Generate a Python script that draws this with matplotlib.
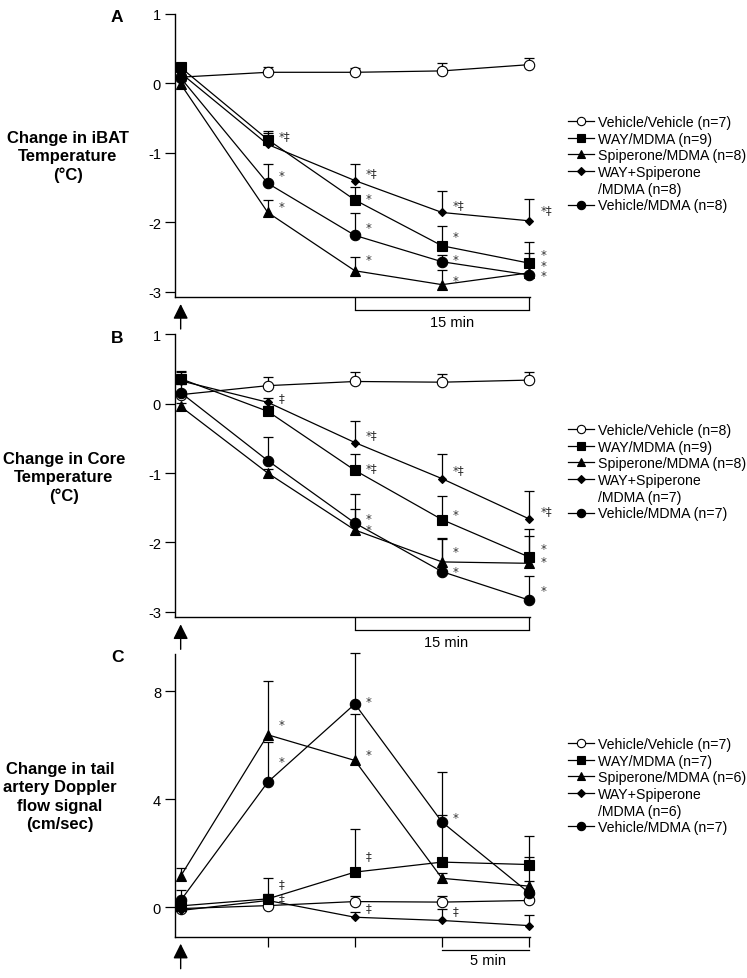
import matplotlib.pyplot as plt
from matplotlib.transforms import offset_copy

plt.rcParams['font.family'] = ['Liberation Sans', 'DejaVu Sans']
plt.rcParams['axes.unicode_minus'] = False

x = [0, 1, 2, 3, 4]

# A: change in iBAT temperature (°C)
a_vv = [0.09, 0.16, 0.16, 0.18, 0.27]
a_vv_err = [0.03, 0.08, 0.06, 0.11, 0.10]
a_way = [0.23, -0.81, -1.68, -2.34, -2.59]
a_way_err = [0.05, 0.12, 0.19, 0.28, 0.31]
a_spi = [-0.01, -1.86, -2.70, -2.90, -2.73]
a_spi_err = [0.04, 0.18, 0.20, 0.21, 0.08]
a_wsp = [0.15, -0.88, -1.40, -1.86, -1.98]
a_wsp_err = [0.05, 0.16, 0.24, 0.31, 0.31]
a_veh = [0.08, -1.44, -2.19, -2.57, -2.76]
a_veh_err = [0.05, 0.28, 0.32, 0.10, 0.32]
a_n = [7, 9, 8, 8, 8]
a_notes = [(1, -0.75, '*‡'), (1, -1.28, '*'), (1, -1.74, '*'),
           (2, -1.28, '*‡'), (2, -1.62, '*'), (2, -2.04, '*'), (2, -2.50, '*'),
           (3, -1.74, '*‡'), (3, -2.17, '*'), (3, -2.50, '*'), (3, -2.80, '*'),
           (4, -1.82, '*‡'), (4, -2.43, '*'), (4, -2.58, '*'), (4, -2.73, '*')]

# B: change in core temperature (°C)
b_vv = [0.13, 0.26, 0.32, 0.31, 0.34]
b_vv_err = [0.05, 0.13, 0.13, 0.12, 0.12]
b_way = [0.36, -0.11, -0.96, -1.67, -2.21]
b_way_err = [0.11, 0.08, 0.23, 0.34, 0.41]
b_spi = [-0.04, -1.00, -1.82, -2.28, -2.30]
b_spi_err = [0.05, 0.06, 0.30, 0.35, 0.39]
b_wsp = [0.33, 0.02, -0.56, -1.08, -1.66]
b_wsp_err = [0.12, 0.06, 0.31, 0.35, 0.40]
b_veh = [0.16, -0.82, -1.72, -2.42, -2.83]
b_veh_err = [0.12, 0.34, 0.42, 0.47, 0.35]
b_n = [8, 9, 8, 7, 7]
b_notes = [(1, 0.09, '‡'),
           (2, -0.44, '*‡'), (2, -0.92, '*‡'), (2, -1.62, '*'), (2, -1.77, '*'),
           (3, -0.95, '*‡'), (3, -1.55, '*'), (3, -2.09, '*'), (3, -2.38, '*'),
           (4, -1.54, '*‡'), (4, -2.05, '*'), (4, -2.23, '*'), (4, -2.65, '*')]

# C: change in tail artery Doppler flow signal (cm/sec)
c_vv = [-0.05, 0.06, 0.21, 0.19, 0.25]
c_vv_err = [0.10, 0.10, 0.20, 0.24, 0.10]
c_way = [0.05, 0.31, 1.30, 1.67, 1.58]
c_way_err = [0.20, 0.76, 1.58, 1.76, 0.27]
c_spi = [1.15, 6.38, 5.43, 1.07, 0.78]
c_spi_err = [0.29, 1.98, 1.73, 0.20, 0.20]
c_wsp = [-0.12, 0.25, -0.37, -0.49, -0.68]
c_wsp_err = [0.10, 0.24, 0.20, 0.43, 0.40]
c_veh = [0.25, 4.63, 7.52, 3.15, 0.53]
c_veh_err = [0.40, 1.48, 1.90, 1.87, 2.10]
c_n = [7, 7, 6, 6, 7]
c_notes = [(1, 6.88, '*'), (1, 5.49, '*'), (1, 0.86, '‡'), (1, 0.33, '‡'),
           (2, 7.72, '*'), (2, 5.74, '*'), (2, 1.91, '‡'), (2, 0.00, '‡'),
           (3, 3.42, '*'), (3, -0.12, '‡')]

styles = [dict(marker='o', ms=7.5, mfc='white'),
          dict(marker='s', ms=6.5, mfc='black'),
          dict(marker='^', ms=7, mfc='black'),
          dict(marker='D', ms=4.5, mfc='black'),
          dict(marker='o', ms=7.5, mfc='black')]

fig = plt.figure(figsize=(7.47, 9.79), dpi=100)


def draw(ax, series, errs, ns, notes):
    handles = []
    for ys, es, st in zip(series, errs, styles):
        tops = [y + e for y, e in zip(ys, es)]
        ax.vlines(x, ys, tops, color='black', lw=0.9, clip_on=False)
        ax.plot(x, tops, ls='none', marker='_', ms=7, mew=0.9, color='black', clip_on=False)
        h, = ax.plot(x, ys, color='black', lw=0.9, mec='black', mew=0.8,
                     clip_on=False, zorder=3, **st)
        handles.append(h)
    for xi, yi, t in notes:
        ax.annotate(t, (xi, yi), xytext=(8, -2 if t == '*' else 0),
                    textcoords='offset points', ha='left', va='center',
                    fontsize=8.5, color='#333333', family=['DejaVu Sans'])
    blank, = ax.plot([], [], color='none')
    labels = ['Vehicle/Vehicle (n=%d)' % ns[0], 'WAY/MDMA (n=%d)' % ns[1],
              'Spiperone/MDMA (n=%d)' % ns[2], 'WAY+Spiperone',
              '/MDMA (n=%d)' % ns[3], 'Vehicle/MDMA (n=%d)' % ns[4]]
    hs = handles[:4] + [blank] + handles[4:]
    return hs, labels


def setup(ax, ylim, yticks, xticks, tick_len, bar, bar_text, text_x, label_gap):
    ax.set_xlim(-0.065, 4.01)
    ax.set_ylim(*ylim)
    ax.set_yticks(yticks)
    ax.set_yticklabels([str(t) for t in yticks])
    ax.set_xticks(xticks)
    ax.set_xticklabels([])
    for s in ['top', 'right']:
        ax.spines[s].set_visible(False)
    ax.spines['left'].set_linewidth(1)
    ax.spines['bottom'].set_linewidth(1)
    ax.tick_params(axis='y', direction='out', length=7, width=0.9, pad=3, labelsize=10.5)
    ax.tick_params(axis='x', direction='out', length=tick_len, width=0.9)
    tr = offset_copy(ax.get_xaxis_transform(), fig=fig, y=-13, units='dots')
    ax.plot(bar, [0, 0], color='black', lw=0.9, transform=tr, clip_on=False)
    tr2 = offset_copy(ax.get_xaxis_transform(), fig=fig, y=-label_gap, units='dots')
    ax.text(text_x, 0, bar_text, transform=tr2, ha='center', va='center', fontsize=10.5)
    tr_a = offset_copy(ax.get_xaxis_transform(), fig=fig, y=-7, units='dots')
    tr_b = offset_copy(ax.get_xaxis_transform(), fig=fig, y=-32, units='dots')
    ax.annotate('', xy=(0, 0), xycoords=tr_a, xytext=(0, 0), textcoords=tr_b,
                arrowprops=dict(arrowstyle='-|>,head_length=0.9,head_width=0.45',
                                color='black', lw=1, shrinkA=0, shrinkB=0),
                annotation_clip=False)


W, H = 747, 979
panels = [
    (298, [a_vv, a_way, a_spi, a_wsp, a_veh], [a_vv_err, a_way_err, a_spi_err, a_wsp_err, a_veh_err],
     a_n, a_notes, (-3.078, 1.0), [-3, -2, -1, 0, 1], [2, 4], 9.4, [2, 4], '15 min', 3.11, 25,
     'A', 'Change in iBAT\nTemperature\n(°C)', 68, 157, 116),
    (618.3, [b_vv, b_way, b_spi, b_wsp, b_veh], [b_vv_err, b_way_err, b_spi_err, b_wsp_err, b_veh_err],
     b_n, b_notes, (-3.078, 1.0), [-3, -2, -1, 0, 1], [2, 4], 9.4, [2, 4], '15 min', 3.05, 25,
     'B', 'Change in Core\nTemperature\n(°C)', 64, 478, 424),
    (937.7, [c_vv, c_way, c_spi, c_wsp, c_veh], [c_vv_err, c_way_err, c_spi_err, c_wsp_err, c_veh_err],
     c_n, c_notes, (-1.09, 9.38), [0, 4, 8], [1, 2, 3, 4], 7.2, [3, 4], '5 min', 3.53, 23,
     'C', 'Change in tail\nartery Doppler\nflow signal\n(cm/sec)', 60, 797, 738),
]

for (bot, series, errs, ns, notes, ylim, yticks, xticks, tlen, bar, btxt, tx, gap,
     letter, ylab, lab_x, lab_y, leg_top) in panels:
    ax = fig.add_axes([175 / W, 1 - bot / H, 355 / W, 283 / H])
    hs, labels = draw(ax, series, errs, ns, notes)
    setup(ax, ylim, yticks, xticks, tlen, bar, btxt, tx, gap)
    fig.text(117 / W, 1 - (bot - 280) / H, letter, fontsize=12.5, fontweight='bold',
             ha='center', va='center')
    fig.text(lab_x / W, 1 - lab_y / H, ylab, fontsize=12, fontweight='bold',
             ha='center', va='center', multialignment='center', linespacing=1.3)
    fig.legend(hs, labels, loc='upper left', bbox_to_anchor=(568 / W, 1 - leg_top / H),
               frameon=False, fontsize=10.2, labelspacing=0.19, handlelength=1.85,
               handletextpad=0.25, borderpad=0, borderaxespad=0, markerscale=0.8)

fig.savefig('out.png', dpi=100)
